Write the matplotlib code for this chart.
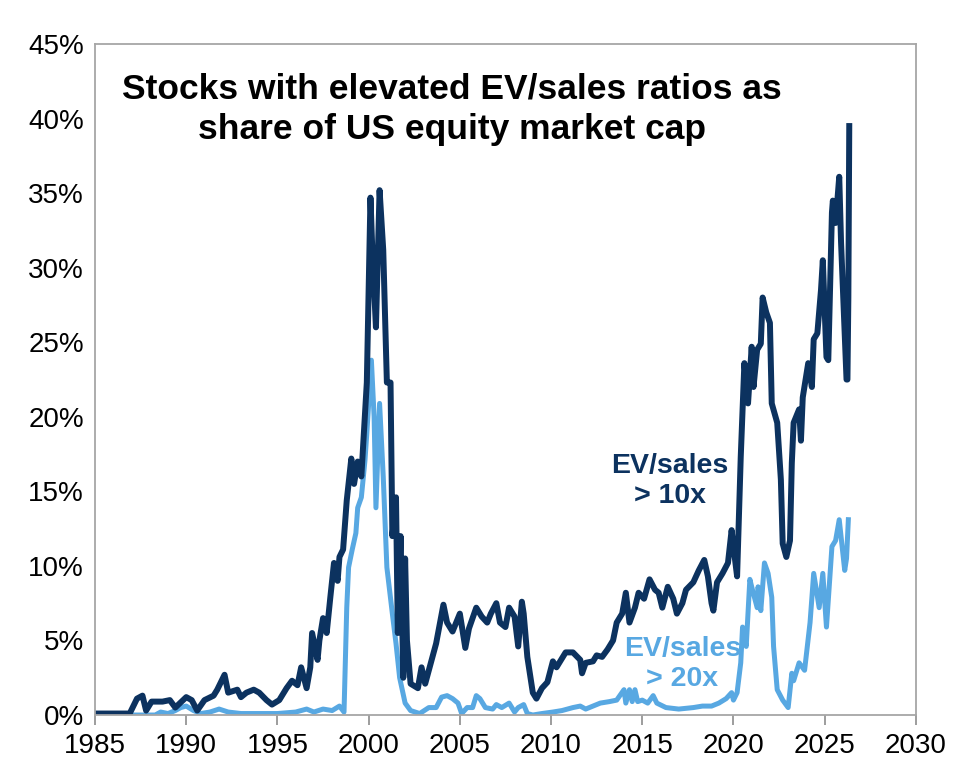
import numpy as np
import matplotlib
matplotlib.use('Agg')
import matplotlib.pyplot as plt

#==============================================================================
#                  Data (% of US equity market cap)
#==============================================================================
yr_10x = [1985.0, 1986.9, 1987.3, 1987.6, 1987.8, 1988.1, 1988.7, 1989.1, 1989.4,
          1990.0, 1990.3, 1990.6, 1991.0, 1991.5, 1991.7, 1992.1, 1992.3, 1992.8,
          1993.0, 1993.3, 1993.7, 1994.0, 1994.4, 1994.7, 1995.1, 1995.5, 1995.8,
          1996.1, 1996.3, 1996.6, 1996.8, 1996.9, 1997.2, 1997.3, 1997.5, 1997.7,
          1997.9, 1998.1, 1998.3, 1998.4, 1998.6, 1998.8, 1999.05, 1999.2, 1999.4,
          1999.6, 1999.9, 2000.1, 2000.2, 2000.4, 2000.6, 2000.8, 2001.0, 2001.2,
          2001.3, 2001.5, 2001.6, 2001.75, 2001.9, 2002.0, 2002.1, 2002.3, 2002.7,
          2002.9, 2003.1, 2003.5, 2003.7, 2004.1, 2004.3, 2004.6, 2005.0, 2005.3,
          2005.5, 2005.9, 2006.2, 2006.5, 2006.7, 2007.0, 2007.2, 2007.5, 2007.7,
          2008.0, 2008.2, 2008.4, 2008.5, 2008.7, 2009.0, 2009.2, 2009.5, 2009.8,
          2010.1, 2010.3, 2010.6, 2010.8, 2011.2, 2011.6, 2011.7, 2011.9, 2012.3,
          2012.5, 2012.8, 2013.1, 2013.4, 2013.6, 2013.9, 2014.1, 2014.3, 2014.6,
          2014.8, 2015.1, 2015.4, 2015.7, 2015.9, 2016.1, 2016.4, 2016.7, 2016.9,
          2017.2, 2017.4, 2017.8, 2018.1, 2018.4, 2018.6, 2018.8, 2018.9, 2019.1,
          2019.4, 2019.7, 2019.9, 2020.0, 2020.2, 2020.4, 2020.6, 2020.8, 2021.0,
          2021.1, 2021.3, 2021.5, 2021.6, 2021.8, 2022.0, 2022.1, 2022.4, 2022.6,
          2022.7, 2022.9, 2023.1, 2023.2, 2023.3, 2023.6, 2023.7, 2023.8, 2024.1,
          2024.3, 2024.4, 2024.6, 2024.8, 2024.9, 2025.1, 2025.2, 2025.4, 2025.45,
          2025.6, 2025.8, 2025.9, 2026.2, 2026.25, 2026.3, 2026.35]
ev_10x = [0.1, 0.1, 1.1, 1.3, 0.3, 0.9, 0.9, 1.0, 0.5,
          1.2, 1.0, 0.3, 1.0, 1.3, 1.7, 2.7, 1.5, 1.7,
          1.2, 1.5, 1.7, 1.5, 1.0, 0.7, 1.0, 1.8, 2.3,
          2.0, 3.2, 1.8, 3.2, 5.5, 3.7, 5.0, 6.5, 5.5,
          7.9, 10.2, 9.0, 10.6, 11.1, 14.4, 17.2, 15.5, 17.0,
          16.0, 22.3, 34.7, 31.2, 26.0, 35.2, 31.2, 22.3, 22.3,
          12.0, 14.6, 5.5, 12.0, 2.5, 10.5, 5.0, 2.1, 1.8,
          3.2, 2.1, 3.9, 4.8, 7.4, 6.2, 5.6, 6.8, 4.5,
          5.8, 7.2, 6.6, 6.2, 6.8, 7.5, 6.2, 5.9, 7.2,
          6.6, 4.6, 7.6, 6.8, 3.9, 1.5, 1.1, 1.8, 2.2,
          3.6, 3.2, 3.8, 4.2, 4.2, 3.7, 2.8, 3.5, 3.6,
          4.0, 3.9, 4.4, 5.0, 6.2, 6.8, 8.2, 6.2, 7.2,
          8.2, 7.8, 9.1, 8.4, 8.2, 7.2, 8.6, 7.8, 6.8,
          7.5, 8.4, 8.9, 9.7, 10.4, 9.3, 7.5, 7.0, 8.9,
          9.5, 10.2, 12.4, 11.3, 9.3, 17.3, 23.6, 20.9, 24.7,
          22.0, 24.5, 24.9, 28.0, 27.0, 26.3, 20.9, 19.6, 15.8,
          11.5, 10.6, 11.7, 16.9, 19.6, 20.5, 18.4, 21.3, 23.6,
          22.0, 25.2, 25.6, 28.5, 30.5, 24.0, 23.8, 33.7, 34.5,
          33.0, 36.1, 31.7, 22.5, 22.5, 28.0, 39.5]

yr_20x = [1985.0, 1988.3, 1988.6, 1989.0, 1989.4, 1989.7, 1990.0, 1990.4, 1990.8,
          1991.3, 1991.8, 1992.3, 1993.0, 1994.0, 1995.0, 1996.0, 1996.6, 1997.0,
          1997.5, 1998.0, 1998.4, 1998.65, 1998.8, 1998.9, 1999.1, 1999.3, 1999.4,
          1999.6, 1999.8, 1999.9, 2000.15, 2000.3, 2000.4, 2000.6, 2000.8, 2001.0,
          2001.3, 2001.5, 2001.7, 2002.0, 2002.3, 2002.8, 2003.3, 2003.7, 2004.0,
          2004.3, 2004.6, 2004.9, 2005.1, 2005.4, 2005.7, 2005.9, 2006.1, 2006.4,
          2006.8, 2007.0, 2007.3, 2007.7, 2008.0, 2008.2, 2008.5, 2008.7, 2009.0,
          2009.5, 2010.1, 2010.6, 2011.2, 2011.6, 2011.9, 2012.7, 2013.2, 2013.6,
          2014.0, 2014.1, 2014.3, 2014.45, 2014.6, 2014.75, 2015.0, 2015.3, 2015.6,
          2015.8, 2016.3, 2017.0, 2017.8, 2018.3, 2018.8, 2019.2, 2019.6, 2019.9,
          2020.0, 2020.2, 2020.4, 2020.5, 2020.7, 2020.9, 2021.0, 2021.3, 2021.35,
          2021.5, 2021.7, 2021.9, 2022.1, 2022.2, 2022.4, 2022.7, 2023.0, 2023.2,
          2023.3, 2023.6, 2023.9, 2024.2, 2024.4, 2024.7, 2024.9, 2025.1, 2025.4,
          2025.6, 2025.8, 2026.1, 2026.2, 2026.3]
ev_20x = [0.0, 0.0, 0.2, 0.1, 0.3, 0.5, 0.6, 0.3, 0.1,
          0.2, 0.4, 0.2, 0.1, 0.1, 0.1, 0.2, 0.4, 0.2,
          0.4, 0.3, 0.6, 0.2, 7.2, 9.9, 11.1, 12.2, 13.9,
          14.6, 17.1, 18.9, 23.8, 20.0, 13.9, 20.9, 16.0, 9.9,
          6.8, 4.8, 2.5, 0.8, 0.3, 0.1, 0.5, 0.5, 1.2,
          1.3, 1.1, 0.8, 0.1, 0.5, 0.5, 1.3, 1.1, 0.5,
          0.4, 0.7, 0.5, 0.8, 0.2, 0.5, 0.7, 0.1, 0.0,
          0.1, 0.2, 0.3, 0.5, 0.6, 0.4, 0.8, 0.9, 1.0,
          1.7, 0.8, 1.7, 0.9, 1.7, 0.9, 1.0, 0.8, 1.3,
          0.8, 0.5, 0.4, 0.5, 0.6, 0.6, 0.8, 1.1, 1.5,
          1.0, 1.5, 3.5, 5.9, 4.6, 9.1, 8.6, 7.2, 8.6,
          7.0, 10.2, 9.5, 7.9, 4.6, 1.7, 1.0, 0.5, 2.8,
          2.3, 3.5, 3.0, 6.2, 9.5, 7.2, 9.5, 5.9, 11.3,
          11.7, 13.1, 9.7, 10.5, 13.1]

x_ticks = [1985, 1990, 1995, 2000, 2005, 2010, 2015, 2020, 2025, 2030]
y_ticks = [0, 5, 10, 15, 20, 25, 30, 35, 40, 45]

title = 'Stocks with elevated EV/sales ratios as\nshare of US equity market cap'

#==============================================================================
#                  Plot
#==============================================================================
navy = '#0c325f'
light = '#58a8e2'
font = ['Liberation Sans', 'DejaVu Sans']

fig = plt.figure(figsize=(9.6, 7.73), dpi=100)
ax = fig.add_axes([0.099, 0.075, 0.855, 0.868])

ax.plot(yr_20x, ev_20x, color=light, lw=3.6, solid_joinstyle='round')
ax.plot(yr_10x, ev_10x, color=navy, lw=4.3, solid_joinstyle='round')

ax.set_xlim(1985, 2030)
ax.set_ylim(0, 45)
ax.set_xticks(x_ticks)
ax.set_yticks(y_ticks)
ax.set_xticklabels([str(v) for v in x_ticks], family=font, fontsize=20)
ax.set_yticklabels(['%d%%' % v for v in y_ticks], family=font, fontsize=20)
ax.tick_params(axis='y', length=0, pad=8)
ax.tick_params(axis='x', length=7, width=1.2, color='#8c8c8c', pad=6, direction='out')

for s in ax.spines.values():
    s.set_color('#a6a6a6')
    s.set_linewidth(1.3)

ax.text(0.435, 0.958, title, transform=ax.transAxes, ha='center', va='top',
        fontsize=25.5, fontweight='bold', family=font, color='black', linespacing=1.3)
ax.text(2016.5, 15.7, 'EV/sales\n> 10x', ha='center', va='center', fontsize=20.5,
        fontweight='bold', family=font, color=navy, linespacing=1.2)
ax.text(2017.2, 3.4, 'EV/sales\n> 20x', ha='center', va='center', fontsize=20.5,
        fontweight='bold', family=font, color=light, linespacing=1.2)

fig.savefig('out.png', dpi=100)
